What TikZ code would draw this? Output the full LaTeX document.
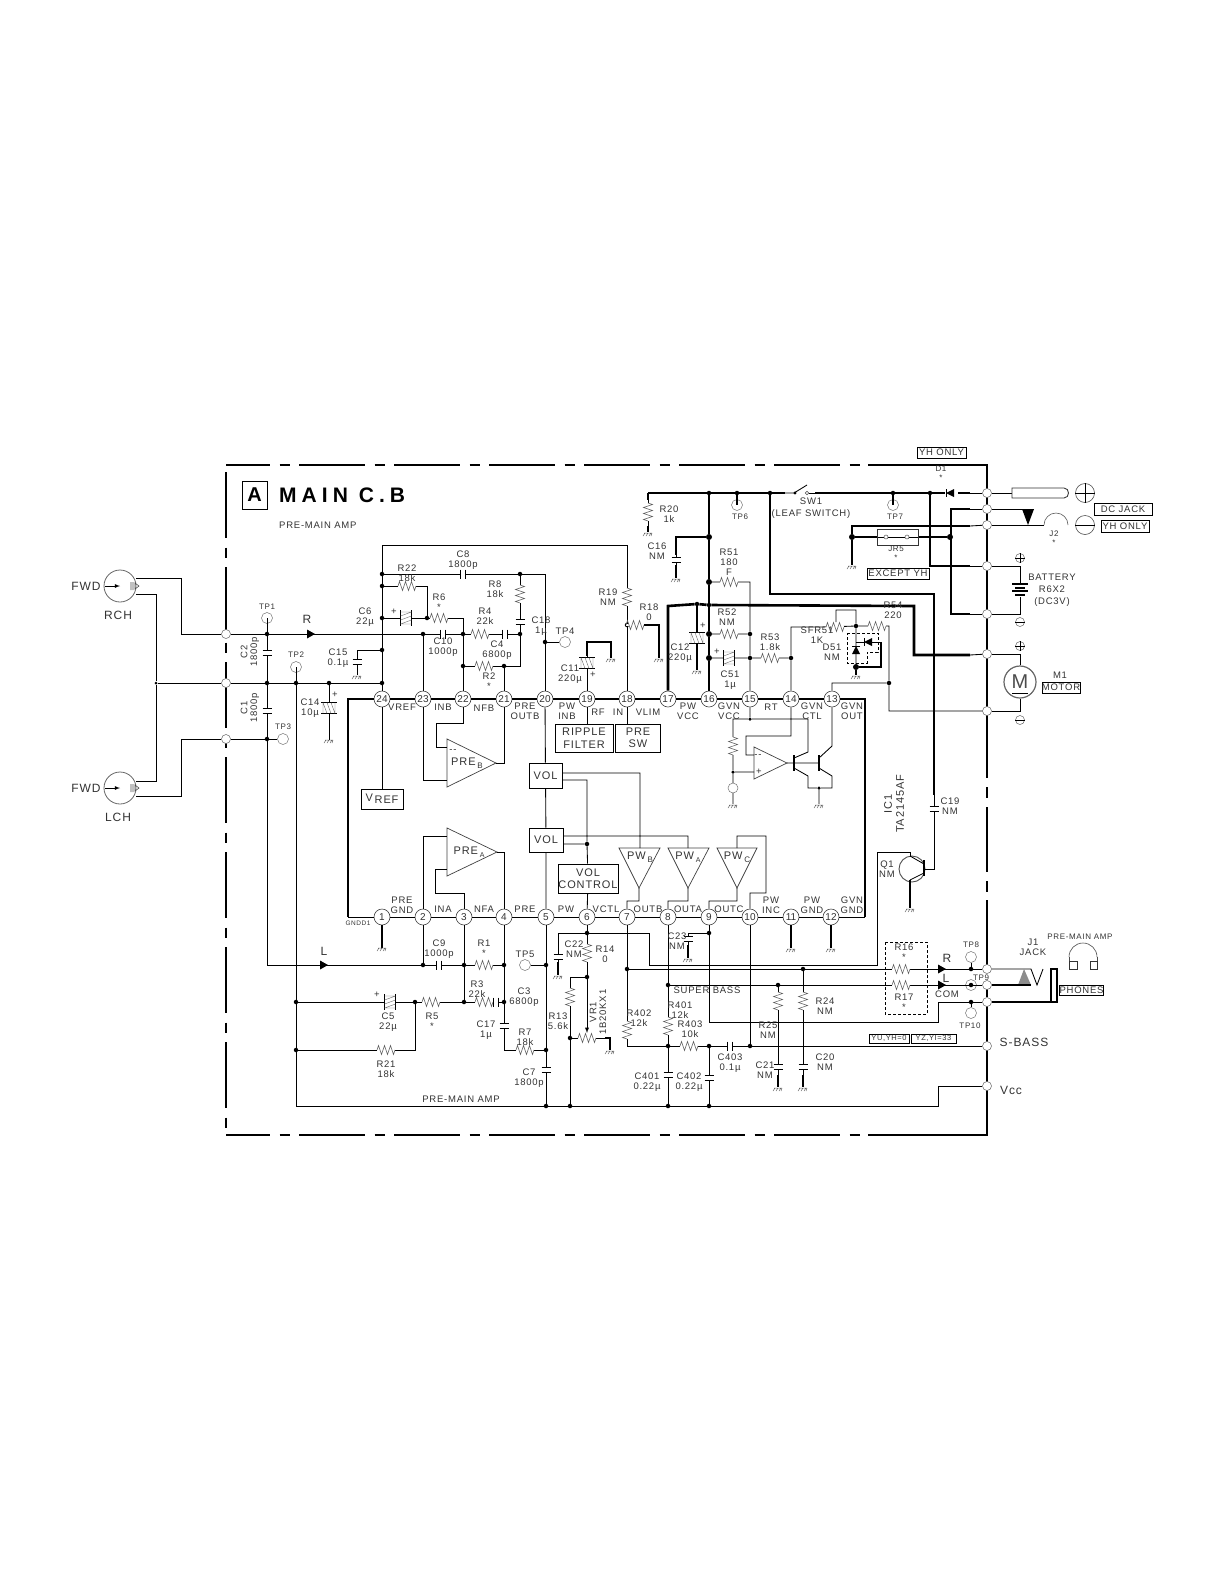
\documentclass[tikz,border=0pt]{standalone}
\usepackage{fontspec}
\setmainfont{Liberation Sans}
\newfontfamily\titlefont[LetterSpace=24]{Liberation Sans}
\newfontfamily\lblfont[LetterSpace=8]{Liberation Sans}
\usepackage{tikz}
\usepackage{xcolor}
\usetikzlibrary{calc, positioning}
\tikzset{
    lbl/.style={font=\lblfont\fontsize{9.5}{9.8}\selectfont, align=center, inner sep=0pt, text=black!80},
    lblsm/.style={font=\lblfont\fontsize{8}{8.5}\selectfont, align=center, inner sep=0pt, text=black!80},
    lblbig/.style={font=\lblfont\fontsize{12}{12.5}\selectfont, align=center, inner sep=0pt, text=black!80},
    tagbox/.style={lbl, draw=black, line width=.8pt, fill=white, inner xsep=1.5pt, inner ysep=1.5pt},
    blockbox/.style={font=\lblfont\fontsize{11}{12.5}\selectfont, align=center, draw=black, line width=.85pt, inner sep=0pt, text=black!80},
    pinnode/.style={circle, draw=black!75, fill=white, line width=.6pt, minimum size=16pt, inner sep=0pt, font=\fontsize{10}{10}\selectfont, text=black!80},
    port/.style={circle, draw=black!60, fill=white, line width=.5pt, minimum size=9pt, inner sep=0pt},
    tpnode/.style={circle, draw=black!55, line width=.5pt, minimum size=11pt, inner sep=0pt},
    dot/.style={circle, fill=black, minimum size=4.5pt, inner sep=0pt},
    wire/.style={line width=.85pt},
    midwire/.style={line width=1.6pt},
    boldwire/.style={line width=2.6pt},
    gate/.style={draw=black!75, line width=.7pt},
    resh/.pic={
        \fill[white] (-9,-.8) rectangle (9,.8);
        \draw[line width=.5pt, black!65] (-9,0) -- (-7.5,-4.5) -- (-4.5,4.5) -- (-1.5,-4.5) -- (1.5,4.5) -- (4.5,-4.5) -- (7.5,4.5) -- (9,0);
    },
    caph/.pic={
        \fill[white] (-2.4,-.8) rectangle (2.4,.8);
        \draw[line width=1.5pt] (-2.4,-4.5) -- (-2.4,4.5) (2.4,-4.5) -- (2.4,4.5);
    },
    polcap/.pic={
        \fill[white] (-5.5,-.8) rectangle (5.5,.8);
        \draw[line width=1.5pt] (-5.5,-8) -- (-5.5,8) (5.5,-8) -- (5.5,8);
        \draw[line width=.4pt, black!60] (-5.5,-6) -- (5.5,-6) (-5.5,6) -- (5.5,6) (-5.5,-2) -- (5.5,-6) (-5.5,2) -- (5.5,-2) (-5.5,6) -- (5.5,2);
    },
    gndmark/.pic={
        \draw[line width=.5pt, black!60] (-4,0) -- (4,0) (-3,0) -- (-5,3) (0,0) -- (-2,3) (3,0) -- (1,3) (4,0) -- (3,3);
    },
    diodemark/.pic={
        \fill[white] (-4,-.8) rectangle (4,.8);
        \fill (-4,0) -- (4,-4) -- (4,4) -- cycle;
        \draw[line width=1pt] (-4,-4) -- (-4,4);
    },
    flowmark/.pic={
        \fill (-4,-4.5) -- (4,0) -- (-4,4.5) -- cycle;
    },
}

\begin{document}
\begin{tikzpicture}[x=1pt, y=-1pt]
    \useasboundingbox (0, 0) rectangle (1225, 1585);

    % frame of the board
    \draw[line width=2.6pt, dash pattern=on 66pt off 9.5pt on 10pt off 9.5pt, dash phase=22pt]
    (226, 465) -- (868, 465)
    (226, 1135) -- (868, 1135);
    \draw[line width=2.6pt, dash pattern=on 66pt off 9.5pt on 10pt off 9.5pt]
    (226, 472) -- (226, 1135);
    \draw[line width=2.6pt]
    (868, 465) -- (987, 465) -- (987, 778)
    (987, 787) -- (987, 798)
    (987, 807) -- (987, 872)
    (987, 881) -- (987, 892)
    (987, 900) -- (987, 965)
    (987, 989) -- (987, 997)
    (987, 1006) -- (987, 1135) -- (868, 1135);

    \node[draw=black, line width=.7pt, minimum width=25pt, minimum height=28pt, inner sep=0pt, font=\fontsize{20}{20}\selectfont\bfseries] (boardtag) at (254.5, 495) {A};
    \node[anchor=west, inner sep=0pt, font=\titlefont\fontsize{21}{21}\selectfont\bfseries] (boardname) at (279, 495) {MAIN C.B};
    \node[lbl, anchor=west] (boardsub) at (279, 525) {PRE-MAIN AMP};

    % ports on the frame
    \node[port] (pl1) at (226, 634) {};
    \node[port] (pl2) at (226, 683) {};
    \node[port] (pl3) at (226, 739) {};
    \node[port] (pr1) at (987, 493) {};
    \node[port] (pr2) at (987, 509) {};
    \node[port] (pr3) at (987, 525) {};
    \node[port] (pr4) at (987, 566) {};
    \node[port] (pr5) at (987, 614) {};
    \node[port] (pr6) at (987, 654) {};
    \node[port] (pr7) at (987, 711) {};
    \node[port] (pr8) at (987, 969) {};
    \node[port] (pr9) at (987, 985) {};
    \node[port] (pr10) at (987, 1002) {};
    \node[port] (pr11) at (987, 1046) {};
    \node[port] (pr12) at (987, 1086) {};

    % IC pins, top row
    \node[pinnode] (p24) at (382, 699) {24};
    \node[pinnode] (p23) at (423, 699) {23};
    \node[pinnode] (p22) at (463, 699) {22};
    \node[pinnode] (p21) at (504, 699) {21};
    \node[pinnode] (p20) at (545, 699) {20};
    \node[pinnode] (p19) at (587, 699) {19};
    \node[pinnode] (p18) at (627, 699) {18};
    \node[pinnode] (p17) at (668, 699) {17};
    \node[pinnode] (p16) at (709, 699) {16};
    \node[pinnode] (p15) at (750, 699) {15};
    \node[pinnode] (p14) at (791, 699) {14};
    \node[pinnode] (p13) at (832, 699) {13};

    % IC pins, bottom row
    \node[pinnode] (p1) at (382, 917) {1};
    \node[pinnode] (p2) at (423, 917) {2};
    \node[pinnode] (p3) at (464, 917) {3};
    \node[pinnode] (p4) at (504, 917) {4};
    \node[pinnode] (p5) at (546, 917) {5};
    \node[pinnode] (p6) at (587, 917) {6};
    \node[pinnode] (p7) at (627, 917) {7};
    \node[pinnode] (p8) at (668, 917) {8};
    \node[pinnode] (p9) at (709, 917) {9};
    \node[pinnode] (p10) at (750, 917) {10};
    \node[pinnode] (p11) at (791, 917) {11};
    \node[pinnode] (p12) at (831, 917) {12};

    % junctions
    \node[dot, minimum size=3pt] (jlft) at (156, 683) {};
    \node[dot] (jtp1) at (267, 634) {};
    \node[dot] (jc10) at (423, 634) {};
    \node[dot] (jr4) at (463, 634) {};
    \node[dot] (jc2) at (267, 683) {};
    \node[dot] (jtp2) at (296, 683) {};
    \node[dot] (jc14) at (329, 683) {};
    \node[dot] (jgnd) at (382, 683) {};
    \node[dot] (jtp3) at (267, 739) {};
    \node[dot] (jc8) at (382, 574) {};
    \node[dot] (jr22) at (382, 586) {};
    \node[dot] (jc6) at (382, 618) {};
    \node[dot] (jc15) at (382, 650) {};
    \node[dot] (jr6) at (427, 618) {};
    \node[dot] (jr2) at (463, 666) {};
    \node[dot] (jr2b) at (504, 666) {};
    \node[dot] (jr8) at (520, 574) {};
    \node[dot] (jc18) at (520, 634) {};
    \node[dot] (jtp4) at (545, 642) {};
    \node[dot] (jr19) at (627, 625) {};
    \node[dot] (jvcc) at (709, 493) {};
    \node[dot] (jtp6) at (737, 493) {};
    \node[dot] (jsw) at (770, 493) {};
    \node[dot] (jtp7) at (893, 493) {};
    \node[dot] (jd1) at (930, 493) {};
    \node[dot, minimum size=6pt] (jc16) at (709, 537) {};
    \node[dot, minimum size=6pt] (jr51) at (709, 582) {};
    \node[dot] (jc12) at (697, 604) {};
    \node[dot] (jvcc2) at (709, 605) {};
    \node[dot, minimum size=6pt] (jr52) at (709, 634) {};
    \node[dot, minimum size=6pt] (jc51) at (709, 658) {};
    \node[dot] (jr52b) at (750, 634) {};
    \node[dot] (jr53) at (750, 658) {};
    \node[dot] (jr54) at (791, 658) {};
    \node[dot] (jd51) at (856, 626) {};
    \node[dot, minimum size=6pt] (jd51b) at (856, 667) {};
    \node[dot] (jgvn) at (889, 683) {};
    \node[dot, minimum size=6pt] (jjr5a) at (852, 537) {};
    \node[dot, minimum size=6pt] (jjr5b) at (950, 537) {};
    \node[dot] (jc9) at (423, 965) {};
    \node[dot] (jr1) at (464, 965) {};
    \node[dot] (jr1b) at (504, 965) {};
    \node[dot] (jtp5) at (546, 965) {};
    \node[dot] (jr3) at (464, 1002) {};
    \node[dot] (jc3) at (504, 1002) {};
    \node[dot] (jr5) at (415, 1002) {};
    \node[dot] (jc5) at (296, 1002) {};
    \node[dot] (jr21) at (296, 1050) {};
    \node[dot] (jr7) at (546, 1050) {};
    \node[dot] (jc7) at (546, 1106) {};
    \node[dot] (jr13) at (570, 1106) {};
    \node[dot] (jvr) at (570, 1038) {};
    \node[dot] (jr14) at (587, 977) {};
    \node[dot] (jc22) at (587, 933) {};
    \node[dot] (jvol) at (587, 844) {};
    \node[dot] (jr402) at (627, 969) {};
    \node[dot] (jr401) at (668, 985) {};
    \node[dot] (jr403) at (668, 1046) {};
    \node[dot] (jc403) at (709, 1046) {};
    \node[dot] (jc403b) at (750, 1046) {};
    \node[dot] (jc401) at (668, 1106) {};
    \node[dot] (jc402) at (709, 1106) {};
    \node[dot] (jc23) at (709, 933) {};
    \node[dot] (jr24) at (803, 969) {};
    \node[dot] (jr25) at (778, 985) {};
    \node[dot] (jtp8) at (971, 969) {};
    \node[dot] (jtp9) at (971, 985) {};
    \node[dot] (jtp10) at (971, 1002) {};
    \node[dot, minimum size=3.5pt] (jgvc) at (750, 719) {};
    \node[dot, minimum size=3.5pt] (jopp) at (733, 772) {};
    \node[dot, minimum size=3.5pt] (jqe) at (819, 788) {};

    % test points
    \node[tpnode] (tp1) at (267, 618) {};
    \node[tpnode] (tp2) at (296, 667) {};
    \node[tpnode] (tp3) at (283, 739) {};
    \node[tpnode] (tp4) at (565, 642) {};
    \node[tpnode] (tp5) at (525, 965) {};
    \node[tpnode] (tp6) at (737, 505) {};
    \node[tpnode] (tp7) at (893, 505) {};
    \node[tpnode] (tp8) at (971, 957) {};
    \node[tpnode] (tp9) at (971, 985) {};
    \node[tpnode] (tp10) at (971, 1013) {};
    \node[lblsm] (ttp1) at (267, 607) {TP1};
    \node[lblsm] (ttp2) at (296, 655) {TP2};
    \node[lblsm] (ttp3) at (283, 727) {TP3};
    \node[lbl] (ttp4) at (565, 631) {TP4};
    \node[lbl] (ttp5) at (525, 954) {TP5};
    \node[lblsm] (ttp6) at (740, 517) {TP6};
    \node[lblsm] (ttp7) at (895, 517) {TP7};
    \node[lblsm] (ttp8) at (971, 945) {TP8};
    \node[lblsm] (ttp9) at (981, 978) {TP9};
    \node[lblsm] (ttp10) at (970, 1026) {TP10};

    % blocks inside the IC
    \node[blockbox, minimum width=42pt, minimum height=20pt] (vref) at (382, 799) {V\,\raisebox{-2pt}{REF}};
    \node[blockbox, minimum width=58pt, minimum height=28pt] (ripple) at (584, 738) {RIPPLE\\FILTER};
    \node[blockbox, minimum width=45pt, minimum height=28pt] (presw) at (638, 738) {PRE\\SW};
    \node[blockbox, minimum width=33pt, minimum height=25pt] (vol1) at (545.5, 775.5) {VOL};
    \node[blockbox, minimum width=34pt, minimum height=24pt] (vol2) at (546, 840) {VOL};
    \node[blockbox, minimum width=60pt, minimum height=29pt] (volctl) at (588, 878.5) {VOL\\CONTROL};

    % amplifier triangles
    \draw[gate] (447, 739) -- (496, 763) -- (447, 787) -- cycle;
    \draw[gate] (447, 828) -- (497, 852) -- (447, 876) -- cycle;
    \draw[gate] (619, 848) -- (660, 848) -- (639, 888) -- cycle;
    \draw[gate] (668, 848) -- (709, 848) -- (688, 888) -- cycle;
    \draw[gate] (717, 848) -- (757, 848) -- (737, 888) -- cycle;
    \draw[gate] (754, 747) -- (787, 763) -- (754, 779) -- cycle;
    \node[lbl, font=\lblfont\fontsize{11}{11}\selectfont] (preb) at (467, 763) {PRE\,\raisebox{-3pt}{\fontsize{8}{8}\selectfont B}};
    \node[lbl, font=\lblfont\fontsize{11}{11}\selectfont] (prea) at (469, 852) {PRE\,\raisebox{-3pt}{\fontsize{7}{7}\selectfont A}};
    \node[lbl, font=\lblfont\fontsize{11}{11}\selectfont] (pwb) at (640, 857) {PW\,\raisebox{-3pt}{\fontsize{8}{8}\selectfont B}};
    \node[lbl, font=\lblfont\fontsize{11}{11}\selectfont] (pwa) at (688, 857) {PW\,\raisebox{-3pt}{\fontsize{7}{7}\selectfont A}};
    \node[lbl, font=\lblfont\fontsize{11}{11}\selectfont] (pwc) at (737, 857) {PW\,\raisebox{-3pt}{\fontsize{8}{8}\selectfont C}};
    \node[lbl] (tminb) at (453, 751) {--};
    \node[lbl] (tminop) at (758, 756) {--};
    \node[lbl] (tplsop) at (759, 772) {+};

    % pin rows
    \draw[midwire] (p24) -- (p23) -- (p22) -- (p21) -- (p20) -- (p19) -- (p18) -- (p17) -- (p16) -- (p15) -- (p14) -- (p13);
    \draw[wire] (p1) -- (p2) -- (p3) -- (p4) -- (p5) -- (p6) -- (p7) -- (p8) -- (p9) -- (p10) -- (p11) -- (p12);
    \draw[boldwire] (p24) -- (348, 699) -- (348, 917);
    \draw[wire] (348, 917) -- (p1);
    \draw[boldwire] (p13) -- (865, 699) -- (865, 917);
    \draw[wire] (865, 917) -- (p12);

    % left side, connectors to ports
    \draw[wire]
    (136, 578) -- (181, 578) |- (pl1)
    (136, 594) -- (156, 594) -- (jlft) -- (156, 781) -- (136, 781)
    (136, 796) -- (181, 796) |- (pl3)
    (jlft) -- (pl2) -- (jc2) -- (jtp2) -- (jc14) -- (jgnd)
    (pl1) -- (jtp1) -- (jc10) -- (jr4)
    (pl3) -- (jtp3) -- (tp3)
    (jtp1) -- (jc2) -- (jtp3)
    (jtp1) -- (tp1.center)
    (jtp2) -- (tp2.center);

    \draw[wire] (jtp3) -- (267, 965) -- (jc9) -- (jr1) -- (jr1b);
    \draw[wire] (jtp2) -- (jc5) -- (jr21) -- (296, 1106) -- (jc7) -- (jr13) -- (jc401) -- (jc402) -- (938, 1106) |- (pr12);

    % feedback network of pins 20..24
    \draw[wire]
    (p24) -- (jgnd) -- (jc15) -- (jc6) -- (jr22) -- (jc8) -- (382, 545) -| (jr19) -- (p18)
    (jc15) -- (357, 650) -- (357, 675)
    (jc14) -- (329, 740)
    (jc8) -- (jr8) -- (545, 574) -- (jtp4) -- (p20)
    (jtp4) -- (tp4)
    (jr22) -- (427, 586) -- (jr6)
    (jc6) -- (jr6) -- (463, 618) -- (jr4) -- (jr2) -- (p22)
    (jr4) -- (jc18)
    (jr2) -- (jr2b) -- (p21)
    (jr2b) -- (520, 666) -- (jc18) -- (jr8)
    (p23) -- (jc10)
    (p23) |- (447, 780)
    (p22) -- (463, 723) -- (436, 723) |- (447, 747)
    (496, 763) -| (p21)
    (p24) -- (vref);

    \draw[wire]
    (jr19) -- (640, 625);
    \draw[boldwire] (640, 625) -- (659, 625) -- (659, 658);

    % C11 beside pin 19
    \draw[wire] (p19) -- (587, 656);
    \draw[midwire] (587, 656) -- (587, 642) -- (611, 642) -- (611, 658);

    \draw[wire] (p19) -- (ripple.north -| p19);
    \draw[wire] (p18) -- (presw.north -| p18);

    % VOL blocks and power amps
    \draw[wire]
    (p20) -- (vol1)
    (vol1) -- (vol2)
    (vol2) -- (p5)
    (562, 773) -- (640, 773) -- (640, 848)
    (562, 780) -- (587, 780) -- (jvol) -- (volctl)
    (volctl) -- (p6)
    (563, 836) -- (688, 836) -- (688, 848)
    (563, 844) -- (jvol)
    (737, 848) -- (737, 836) -- (766, 836) -- (766, 893) -- (750, 893) -- (p10)
    (639, 888) -- (639, 901) -- (627, 901) -- (p7)
    (688, 888) -- (688, 901) -- (668, 901) -- (p8)
    (737, 888) -- (737, 901) -- (709, 901) -- (p9);

    % PRE A and the lower network
    \draw[wire]
    (p2) -- (423, 836) -- (447, 836)
    (p3) -- (464, 893) -- (435, 893) |- (447, 869)
    (497, 852) -| (p4)
    (p2) -- (jc9)
    (p3) -- (jr1) -- (jr3)
    (p4) -- (jr1b) -- (jc3) -- (504, 1050) -- (jr7)
    (jc5) -- (jr5) -- (jr3) -- (jc3)
    (jr21) -- (415, 1050) -- (jr5)
    (p5) -- (jtp5) -- (jr7) -- (jc7)
    (jtp5) -- (tp5);
    \draw[midwire] (p1) -- (382, 948);

    % pin 6, volume pot
    \draw[wire]
    (p6) -- (jc22) -- (jr14) -- (587, 1030)
    (jr14) -- (570, 977) -- (jvr) -- (jr13)
    (jvr) -- (605, 1038)
    (jc22) -- (558, 933) -- (558, 975)
    (jc22) -- (649, 933) -- (649, 965) -- (877, 965) -- (877, 852) -- (910, 852) -- (910, 857);
    \draw[midwire] (605, 1038) -- (610, 1038) -- (610, 1050);
    \draw[->, >=latex, wire] (587, 1026) -- (587, 1033);

    % outputs of pins 7..12
    \draw[wire]
    (p7) -- (jr402) -- (627, 1046) -- (jr403)
    (jr402) -- (jr24) -- (jtp8) -- (pr8)
    (jr401) -- (jr25) -- (jtp9) -- (pr9)
    (p8) -- (jr401) -- (jr403) -- (jc401)
    (jr403) -- (jc403) -- (jc403b) -- (pr11)
    (jc403) -- (jc402)
    (p9) -- (jc23) -- (709, 1022) -- (938, 1022) |- (jtp10)
    (jtp10) -- (pr10)
    (jc23) -- (688, 933) -- (688, 958)
    (p10) -- (jc403b)
    (jr25) -- (778, 1087)
    (jr24) -- (803, 1087)
    (jtp8) -- (tp8)
    (jtp10) -- (tp10);
    \draw[midwire] (p11) -- (791, 948);
    \draw[midwire] (p12) -- (831, 948);
    \draw[midwire] (778, 1075) -- (778, 1087);
    \draw[midwire] (803, 1075) -- (803, 1087);
    \draw[midwire] (688, 945) -- (688, 958);
    \draw[midwire] (558, 962) -- (558, 975);

    % transistor Q1
    \draw[black!70, line width=.9pt] (912, 869) circle[radius=13];
    \draw[line width=2pt] (924, 860) -- (924, 876);
    \draw[wire] (924, 869) -- (934, 869) -- (934, 820);
    \draw[wire] (910, 856) -- (924, 864);
    \draw[wire] (910, 880) -- (924, 873);
    \draw[midwire] (910, 880) -- (910, 908);

    % supply rail
    \draw[boldwire] (648, 493) -- (jvcc) -- (jtp6) -- (jsw) -- (785, 493);
    \draw[wire] (785, 493) -- (794, 493) -- (807, 485);
    \fill (795, 493) circle[radius=1.7];
    \draw[black!70, line width=.5pt] (807, 493) circle[radius=1.7];
    \draw[wire] (809, 493) -- (815, 493);
    \draw[boldwire] (815, 493) -- (jtp7) -- (jd1) -- (945, 493);
    \draw[boldwire] (958, 493) -- (970, 493);
    \draw[wire] (970, 493) -- (pr1) -- (1012, 493);
    \draw[boldwire] (jvcc) -- (jc16) -- (jr51) -- (jvcc2) -- (jr52) -- (jc51) -- (p16);
    \draw[boldwire] (jtp6) -- (tp6.center);
    \draw[boldwire] (jtp7) -- (tp7.center);
    \draw[boldwire] (648, 493) -- (648, 500);
    \draw[wire] (648, 500) -- (648, 526);
    \draw[boldwire] (648, 526) -- (648, 532);
    \draw[boldwire] (jc16) -- (676, 537) -- (676, 555);
    \draw[wire] (676, 555) -- (676, 565);
    \draw[boldwire] (676, 565) -- (676, 578);

    % bold loops across the board
    \draw[boldwire] (p17) -- (668, 606) -- (jc12) -- (jvcc2) -- (914, 606) -- (914, 655) -- (970, 655);
    \draw[midwire] (jc12) -- (697, 632);
    \draw[midwire] (697, 644) -- (697, 670);
    \draw[wire] (970, 655) -- (pr6);
    \draw[boldwire] (jsw) -- (770, 594) -- (934, 594) -- (934, 795);
    \draw[wire] (934, 795) -- (934, 820);
    \draw[boldwire] (jd1) -- (930, 566) -- (970, 566);
    \draw[wire] (970, 566) -- (pr4);
    \draw[boldwire] (970, 509) -- (951, 509) -- (951, 614) -- (970, 614);
    \draw[wire] (970, 509) -- (pr2) (970, 614) -- (pr5);
    \draw[boldwire] (970, 526) -- (852, 526) -- (jjr5a) -- (852, 565);
    \draw[wire] (970, 526) -- (pr3);
    \draw[midwire] (jjr5a) -- (877, 537) (918, 537) -- (jjr5b);
    \draw[wire] (877, 537) -- (884, 537) (888, 537) -- (905, 537) (909, 537) -- (918, 537);
    \draw[wire, black!80] (877, 529) rectangle (918, 545);
    \draw[black!70, line width=.5pt] (886, 537) circle[radius=2] (907, 537) circle[radius=2];

    % pins 14..16
    \draw[wire]
    (jr51) -- (750, 582) -- (jr52b) -- (jr53) -- (p15)
    (jr52) -- (jr52b)
    (jc51) -- (jr53) -- (jr54) -- (p14)
    (jr54) -- (791, 627) -- (825, 627)
    (836, 622) -- (836, 610) -- (856, 610) -- (jd51)
    (826, 627) -- (jd51) -- (889, 626) -- (jgvn) -- (889, 711) -- (pr7)
    (jgvn) -- (832, 683) -- (p13)
    (jd51) -- (jd51b);
    \draw[boldwire] (jd51b) -- (881, 667) -- (881, 642);
    \draw[wire] (856, 642) -- (881, 642);
    \draw[midwire] (jd51b) -- (856, 675);
    \draw[wire, dashed, dash pattern=on 3pt off 2pt] (847, 633) -- (878, 633) -- (878, 652) -- (867, 652) -- (867, 663) -- (847, 663) -- cycle;

    % GVN amp
    \draw[wire]
    (p15) -- (jgvc) -- (733, 719) -- (jopp) -- (733, 804)
    (jgvc) -- (808, 719) -- (808, 752) -- (794, 758)
    (jopp) -- (754, 772)
    (p14) -- (791, 736) -- (746, 736) |- (754, 755)
    (787, 763) -- (819, 763)
    (794, 768) -- (808, 776) -- (808, 788) -- (jqe) -- (832, 788) -- (832, 776) -- (819, 768)
    (jqe) -- (819, 804)
    (819, 758) -- (832, 746) -- (p13);
    \draw[line width=1.6pt] (794, 755) -- (794, 771) (819, 755) -- (819, 771);
    \node[tpnode, minimum size=10pt, fill=white] (gvcs) at (733, 788) {};

    % right side devices
    \draw[wire] (pr2) -- (1034, 509) (pr3) -- (1044, 525);
    \fill (1022, 509) -- (1034, 509) -- (1028, 525) -- cycle;
    \draw[black!65, line width=.6pt] (1044, 525) arc[start angle=180, end angle=360, radius=12];
    \draw[wire, black!80] (1012, 488) -- (1064, 488) .. controls (1070, 488) and (1070, 498) .. (1064, 498) -- (1012, 498) -- cycle;
    \node[circle, draw=black!70, line width=.6pt, minimum size=19pt, inner sep=0pt] (dcplus) at (1085, 493) {};
    \node[circle, draw=black!70, line width=.6pt, minimum size=19pt, inner sep=0pt] (dcminus) at (1085, 525) {};
    \draw[wire] (dcplus.west) -- (dcplus.east) (dcplus.north) -- (dcplus.south) (dcminus.west) -- (dcminus.east);

    \draw[wire] (pr4) -- (1020, 566) -- (1020, 585) (1020, 597) -- (1020, 614) -- (pr5);
    \draw[line width=1.2pt] (1012, 584) -- (1028, 584) (1012, 591) -- (1028, 591);
    \draw[line width=2pt] (1015, 587.5) -- (1025, 587.5) (1015, 595) -- (1025, 595);
    \node[circle, draw=black!60, line width=.5pt, minimum size=9pt, inner sep=0pt] (batplus) at (1020, 558) {};
    \node[circle, draw=black!60, line width=.5pt, minimum size=9pt, inner sep=0pt] (batminus) at (1020, 622) {};
    \draw[wire] (batplus.west) -- (batplus.east) (batplus.north) -- (batplus.south) (batminus.west) -- (batminus.east);

    \node[circle, draw=black!60, line width=1.2pt, minimum size=32pt, inner sep=0pt, font=\fontsize{20}{20}\selectfont, text=black!70] (motor) at (1020, 682) {M};
    \draw[wire] (pr6) -- (1020, 654) -- (motor) (motor) -- (1020, 711) -- (pr7);
    \draw[wire] (1012, 693) -- (1028, 693);
    \node[circle, draw=black!60, line width=.5pt, minimum size=9pt, inner sep=0pt] (motplus) at (1020, 646) {};
    \node[circle, draw=black!60, line width=.5pt, minimum size=9pt, inner sep=0pt] (motminus) at (1020, 720) {};
    \draw[wire] (motplus.west) -- (motplus.east) (motplus.north) -- (motplus.south) (motminus.west) -- (motminus.east);

    % phones jack
    \draw[wire] (pr8) -- (1031, 969) -- (1037, 985) -- (1043, 969);
    \fill[black!45] (1024, 969) -- (1018, 985) -- (1031, 985) -- cycle;
    \draw[midwire] (pr9) -- (1031, 985);
    \draw[midwire] (pr10) -- (1056, 1002);
    \draw[line width=1.5pt] (1051, 969) rectangle (1057, 1002);
    \draw[black!70, line width=.6pt] (1069, 957) arc[start angle=180, end angle=360, radius=14];
    \draw[wire, black!80] (1069, 961) rectangle (1077, 969) (1090, 961) rectangle (1097, 969);
    \draw[black!70, line width=.6pt] (1069, 957) -- (1069, 961) (1097, 957) -- (1097, 961);

    % FWD connectors on the left
    \node[circle, draw=black!60, line width=.8pt, minimum size=32pt, inner sep=0pt] (rch) at (120, 586) {};
    \node[circle, draw=black!60, line width=.8pt, minimum size=32pt, inner sep=0pt] (lch) at (120, 788) {};
    \draw[->, >=latex, line width=.8pt] (105, 586) -- (120, 586);
    \draw[->, >=latex, line width=.8pt] (105, 788) -- (120, 788);
    \draw[line width=.6pt, black!70] (131, 582) -- (131, 590) (133, 582) -- (133, 590) (135, 583) -- (139, 586) -- (135, 589) -- cycle;
    \draw[line width=.6pt, black!70] (131, 784) -- (131, 792) (133, 784) -- (133, 792) (135, 785) -- (139, 788) -- (135, 791) -- cycle;
    \node[lblbig] (tfwdr) at (86, 586) {FWD};
    \node[lblbig] (tfwdl) at (86, 788) {FWD};
    \node[lblbig] (trch) at (118, 615) {RCH};
    \node[lblbig] (tlch) at (118, 817) {LCH};

    % components on the wires
    \pic at (407, 586) {resh};
    \pic at (439, 618) {resh};
    \pic at (480, 634) {resh};
    \pic at (484, 666) {resh};
    \pic[rotate=90] at (520, 594) {resh};
    \pic[rotate=90] at (627, 597) {resh};
    \pic at (635, 625) {resh};
    \pic[rotate=90] at (648, 512) {resh};
    \pic at (729, 582) {resh};
    \pic at (729, 634) {resh};
    \pic at (770, 658) {resh};
    \pic at (835, 627) {resh};
    \pic at (877, 626) {resh};
    \pic[rotate=90] at (733, 746) {resh};
    \pic at (484, 965) {resh};
    \pic at (484, 1002) {resh};
    \pic at (431, 1002) {resh};
    \pic at (386, 1050) {resh};
    \pic at (525, 1050) {resh};
    \pic[rotate=90] at (587, 953) {resh};
    \pic[rotate=90] at (570, 997) {resh};
    \pic at (587, 1038) {resh};
    \pic[rotate=90] at (627, 1030) {resh};
    \pic[rotate=90] at (668, 1026) {resh};
    \pic at (689, 1046) {resh};
    \pic[rotate=90] at (778, 1001) {resh};
    \pic[rotate=90] at (803, 1001) {resh};
    \pic at (901, 969) {resh};
    \pic at (901, 985) {resh};

    \pic[rotate=90] at (267, 653) {caph};
    \pic[rotate=90] at (267, 711) {caph};
    \pic[rotate=90] at (357, 662) {caph};
    \pic at (443, 634) {caph};
    \pic at (463, 574) {caph};
    \pic at (505, 634) {caph};
    \pic[rotate=90] at (520, 622) {caph};
    \pic[rotate=90] at (676, 560) {caph};
    \pic at (439, 965) {caph};
    \pic at (496, 1002) {caph};
    \pic[rotate=90] at (504, 1026) {caph};
    \pic[rotate=90] at (546, 1070) {caph};
    \pic[rotate=90] at (558, 957) {caph};
    \pic[rotate=90] at (688, 939) {caph};
    \pic[rotate=90] at (668, 1075) {caph};
    \pic[rotate=90] at (709, 1078) {caph};
    \pic at (730, 1046) {caph};
    \pic[rotate=90] at (778, 1067) {caph};
    \pic[rotate=90] at (803, 1067) {caph};
    \pic[rotate=90] at (934, 809) {caph};

    \pic at (406, 618) {polcap};
    \pic[rotate=90] at (329, 708) {polcap};
    \pic[rotate=90] at (697, 638) {polcap};
    \pic at (729, 658) {polcap};
    \pic at (390, 1002) {polcap};
    \pic[rotate=90] at (587, 663) {polcap};

    \pic at (950, 493) {diodemark};
    \pic at (868, 642) {diodemark};
    \pic[rotate=-90] at (856, 650) {diodemark};

    \pic at (311, 634) {flowmark};
    \pic at (324, 965) {flowmark};
    \pic at (942, 969) {flowmark};
    \pic at (942, 985) {flowmark};

    % grounds
    \pic at (329, 740) {gndmark};
    \pic at (357, 676) {gndmark};
    \pic at (382, 948) {gndmark};
    \pic at (611, 659) {gndmark};
    \pic at (659, 659) {gndmark};
    \pic at (648, 533) {gndmark};
    \pic at (676, 579) {gndmark};
    \pic at (697, 671) {gndmark};
    \pic at (733, 805) {gndmark};
    \pic at (819, 805) {gndmark};
    \pic at (852, 566) {gndmark};
    \pic at (856, 676) {gndmark};
    \pic at (558, 976) {gndmark};
    \pic at (610, 1051) {gndmark};
    \pic at (688, 959) {gndmark};
    \pic at (791, 949) {gndmark};
    \pic at (831, 949) {gndmark};
    \pic at (910, 909) {gndmark};
    \pic at (778, 1088) {gndmark};
    \pic at (803, 1088) {gndmark};

    % part labels
    \node[lblbig] (tsigr) at (307, 619) {R};
    \node[lblbig] (tsigl) at (324, 951) {L};
    \node[lbl, rotate=90] (tc2) at (250, 652) {C2\\1800p};
    \node[lbl, rotate=90] (tc1) at (250, 708) {C1\\1800p};
    \node[lbl] (tc15) at (338, 658) {C15\\0.1µ};
    \node[lbl] (tc14) at (310, 708) {C14\\10µ};
    \node[lbl] (tp14) at (335, 695) {+};
    \node[lbl] (tc6) at (365, 617) {C6\\22µ};
    \node[lbl] (tp6a) at (394, 612) {+};
    \node[lbl] (tr22) at (407, 573) {R22\\18k};
    \node[lbl] (tr6) at (439, 602) {R6\\*};
    \node[lbl] (tc8) at (463, 560) {C8\\1800p};
    \node[lbl] (tc10) at (443, 647) {C10\\1000p};
    \node[lbl] (tr4) at (485, 616) {R4\\22k};
    \node[lbl] (tc4) at (497, 650) {C4\\6800p};
    \node[lbl] (tr2) at (489, 681) {R2\\*};
    \node[lbl] (tr8) at (495, 589) {R8\\18k};
    \node[lbl] (tc18) at (541, 626) {C18\\1µ};
    \node[lbl] (tr19) at (608, 597) {R19\\NM};
    \node[lbl] (tr18) at (649, 612) {R18\\0};
    \node[lbl] (tc11) at (570, 674) {C11\\220µ};
    \node[lbl] (tp11) at (593, 675) {+};
    \node[lbl] (tr20) at (669, 514) {R20\\1k};
    \node[lbl] (tc16) at (657, 551) {C16\\NM};
    \node[lbl] (tr51) at (729, 562) {R51\\180\\F};
    \node[lbl] (tr52) at (727, 617) {R52\\NM};
    \node[lbl] (tc12) at (680, 653) {C12\\220µ};
    \node[lbl] (tp12) at (703, 626) {+};
    \node[lbl] (tc51) at (730, 680) {C51\\1µ};
    \node[lbl] (tp51) at (717, 652) {+};
    \node[lbl] (tr53) at (770, 642) {R53\\1.8k};
    \node[lbl] (tsfr) at (817, 635) {SFR51\\1K};
    \node[lbl] (td51) at (832, 652) {D51\\NM};
    \node[lbl] (tr54) at (893, 610) {R54\\220};
    \node[lbl] (tc19) at (950, 806) {C19\\NM};
    \node[lbl] (tq1) at (887, 869) {Q1\\NM};
    \node[lbl, rotate=90, font=\lblfont\fontsize{11}{12}\selectfont] (tic1) at (894, 804) {IC1\\TA2145AF};

    % pin names, top
    \node[lbl] (nvref) at (402, 707) {VREF};
    \node[lbl] (ninb) at (443, 707) {INB};
    \node[lbl] (nnfb) at (484, 708) {NFB};
    \node[lbl] (npreo) at (525, 711) {PRE\\OUTB};
    \node[lbl] (npwinb) at (567, 711) {PW\\INB};
    \node[lbl] (nrf) at (598, 712) {RF};
    \node[lbl] (nin) at (618, 712) {IN};
    \node[lbl] (nvlim) at (648, 712) {VLIM};
    \node[lbl] (npwvcc) at (688, 711) {PW\\VCC};
    \node[lbl] (ngvnvcc) at (729, 711) {GVN\\VCC};
    \node[lbl] (nrt) at (771, 707) {RT};
    \node[lbl] (ngvnctl) at (812, 711) {GVN\\CTL};
    \node[lbl] (ngvnout) at (852, 711) {GVN\\OUT};

    % pin names, bottom
    \node[lblsm, font=\lblfont\fontsize{6.5}{7}\selectfont] (ngndd) at (358, 923) {GNDD1};
    \node[lbl] (npregnd) at (402, 905) {PRE\\GND};
    \node[lbl] (nina) at (443, 909) {INA};
    \node[lbl] (nnfa) at (484, 909) {NFA};
    \node[lbl] (npre) at (525, 909) {PRE};
    \node[lbl] (npw) at (566, 909) {PW};
    \node[lbl] (nvctl) at (606, 909) {VCTL};
    \node[lbl] (noutb) at (648, 909) {OUTB};
    \node[lbl] (nouta) at (688, 909) {OUTA};
    \node[lbl] (noutc) at (729, 909) {OUTC};
    \node[lbl] (npwinc) at (771, 905) {PW\\INC};
    \node[lbl] (npwgnd) at (812, 905) {PW\\GND};
    \node[lbl] (ngvngnd) at (852, 905) {GVN\\GND};

    % lower labels
    \node[lbl] (tc9) at (439, 949) {C9\\1000p};
    \node[lbl] (tr1) at (484, 948) {R1\\*};
    \node[lbl] (tr3) at (477, 989) {R3\\22k};
    \node[lbl] (tc3) at (524, 997) {C3\\6800p};
    \node[lbl] (tc5) at (388, 1022) {C5\\22µ};
    \node[lbl] (tp5a) at (377, 995) {+};
    \node[lbl] (tr5) at (432, 1021) {R5\\*};
    \node[lbl] (tr21) at (386, 1069) {R21\\18k};
    \node[lbl] (tr7) at (525, 1037) {R7\\18k};
    \node[lbl] (tc17) at (486, 1030) {C17\\1µ};
    \node[lbl] (tc7) at (529, 1078) {C7\\1800p};
    \node[lbl] (tbot) at (461, 1099) {PRE-MAIN AMP};
    \node[lbl] (tc22) at (574, 949) {C22\\NM};
    \node[lbl] (tr14) at (605, 954) {R14\\0};
    \node[lbl] (tr13) at (558, 1021) {R13\\5.6k};
    \node[lbl, rotate=90] (tvr1) at (598, 1012) {VR1\\1B20KX1};
    \node[lbl] (tc23) at (677, 941) {C23\\NM};
    \node[lbl] (tsuper) at (707, 990) {SUPER BASS};
    \node[lbl] (tr402) at (639, 1018) {R402\\12k};
    \node[lbl] (tr401) at (680, 1010) {R401\\12k};
    \node[lbl] (tr403) at (690, 1029) {R403\\10k};
    \node[lbl] (tc403) at (730, 1063) {C403\\0.1µ};
    \node[lbl] (tc401) at (647, 1082) {C401\\0.22µ};
    \node[lbl] (tc402) at (689, 1082) {C402\\0.22µ};
    \node[lbl] (tr25) at (768, 1030) {R25\\NM};
    \node[lbl] (tr24) at (825, 1006) {R24\\NM};
    \node[lbl] (tc21) at (765, 1070) {C21\\NM};
    \node[lbl] (tc20) at (825, 1062) {C20\\NM};
    \node[lbl] (tr16) at (904, 952) {R16\\*};
    \node[lbl] (tr17) at (904, 1002) {R17\\*};
    \node[lblbig] (tsr) at (947, 958) {R};
    \node[lblbig] (tsl) at (946, 978) {L};
    \node[lbl] (tcom) at (947, 994) {COM};
    \draw[wire, dashed, dash pattern=on 3pt off 2pt] (885, 942) rectangle (927, 1014);
    \node[tagbox, font=\lblfont\fontsize{7.5}{8}\selectfont, minimum width=40pt, minimum height=9pt, inner sep=0pt] (tyu) at (889, 1038.5) {YU,YH=0};
    \node[tagbox, font=\lblfont\fontsize{7.5}{8}\selectfont, minimum width=45pt, minimum height=9pt, inner sep=0pt] (tyz) at (933.5, 1038.5) {YZ,YI=33};
    \node[lblbig] (tsbass) at (1024, 1042) {S-BASS};
    \node[lblbig] (tvcc) at (1011, 1090) {Vcc};
    \node[lbl] (tj1) at (1033, 947) {J1\\JACK};
    \node[lbl, font=\lblfont\fontsize{8}{9}\selectfont] (tphamp) at (1080, 937) {PRE-MAIN AMP};
    \node[tagbox, minimum width=41pt, minimum height=10pt, inner sep=0pt] (tphones) at (1081.5, 990) {PHONES};

    % upper right labels
    \node[tagbox, minimum width=49pt, minimum height=11pt, inner sep=0pt] (tyh1) at (941.5, 452.5) {YH ONLY};
    \node[lblsm] (td1) at (941, 473) {D1\\*};
    \node[lbl] (tsw1) at (811, 501) {SW1};
    \node[lbl] (tleaf) at (811, 514) {(LEAF SWITCH)};
    \node[lblsm] (tjr5) at (896, 553) {JR5\\*};
    \node[tagbox, minimum width=62pt, minimum height=11pt, inner sep=0pt] (texc) at (898, 573.5) {EXCEPT YH};
    \node[tagbox, minimum width=58pt, minimum height=12pt, inner sep=0pt] (tdcj) at (1123, 509) {DC JACK};
    \node[tagbox, minimum width=48pt, minimum height=12pt, inner sep=0pt] (tyh2) at (1125, 526) {YH ONLY};
    \node[lblsm] (tj2) at (1054, 538) {J2\\*};
    \node[lbl] (tbat) at (1052, 590) {BATTERY\\[2pt]R6X2\\[2pt](DC3V)};
    \node[lbl] (tm1) at (1060, 675) {M1};
    \node[tagbox, minimum width=36pt, minimum height=11pt, inner sep=0pt] (tmotor) at (1061, 687.5) {MOTOR};
\end{tikzpicture}
\end{document}
